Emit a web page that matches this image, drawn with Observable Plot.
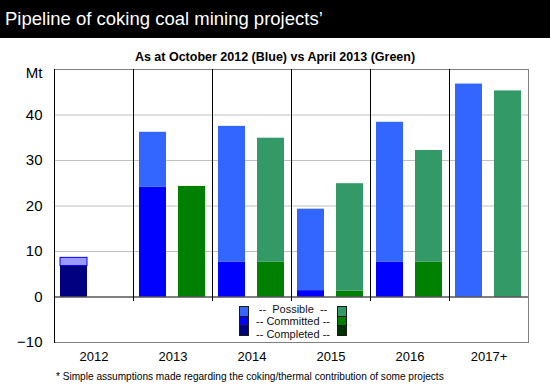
<!DOCTYPE html>
<html><head><meta charset="utf-8">
<script src="https://cdn.jsdelivr.net/npm/d3@7"></script>
<script src="https://cdn.jsdelivr.net/npm/@observablehq/plot@0.6"></script>
<style>
body{margin:0;background:#fff;font-family:"Liberation Sans",Arial,sans-serif;color:#000;}
#wrap{position:relative;width:550px;height:390px;overflow:hidden;}
#title{height:38px;background:#000;color:#fff;font-size:18.5px;line-height:38px;padding-left:5px;white-space:nowrap;}
#subtitle{position:absolute;top:49.5px;left:0;width:550px;text-align:center;font-weight:bold;font-size:12.5px;line-height:15px;white-space:nowrap;}
#chart{position:absolute;top:38px;left:0;}
#foot{position:absolute;top:371px;left:56px;font-size:10.1px;line-height:12px;white-space:nowrap;}
.sw{position:absolute;width:10px;}
.sw div{box-sizing:border-box;width:10px;height:10.5px;border:1px solid #1a1a1a;margin-top:-1px;}
#legtext{position:absolute;left:243px;top:302.5px;width:100px;text-align:center;font-size:11px;line-height:12.5px;white-space:pre;color:#111;}
</style></head>
<body>
<div id="wrap">
  <div id="title">Pipeline of coking coal mining projects’</div>
  <div id="subtitle">As at October 2012 (Blue) vs April 2013 (Green)</div>
  <div id="chart"></div>
  <div class="sw" id="swBlue" style="left:238.5px;top:307px"></div>
  <div class="sw" id="swGreen" style="left:337px;top:307px"></div>
  <div id="legtext"></div>
  <div id="foot">* Simple assumptions made regarding the coking/thermal contribution of some projects</div>
</div>
<script>
const years = ["2012", "2013", "2014", "2015", "2016", "2017+"];
const seriesNames = ["Oct 2012", "Apr 2013"];
const segments = ["Completed", "Committed", "Possible"];
const legendLabels = ["--  Possible  --", "-- Committed --", "-- Completed --"];

// October 2012 (blue)
const oct2012Completed = [6.8, 0, 0, 0, 0, 0];
const oct2012Committed = [0, 24.1, 7.7, 1.4, 7.7, 0];
const oct2012Possible  = [1.8, 12.1, 29.8, 17.9, 30.7, 46.8];
// April 2013 (green)
const apr2013Completed = [0, 0, 0, 0, 0, 0];
const apr2013Committed = [0, 24.3, 7.7, 1.3, 7.7, 0];
const apr2013Possible  = [0, 0, 27.2, 23.6, 24.5, 45.3];

const palette = {
  "Oct 2012": {Completed: "#000080", Committed: "#0000ff", Possible: "#3366ff"},
  "Apr 2013": {Completed: "#003300", Committed: "#008000", Possible: "#339966"}
};
const earlyPossibleColor = "#9999ff";

const seriesData = {
  "Oct 2012": {Completed: oct2012Completed, Committed: oct2012Committed, Possible: oct2012Possible},
  "Apr 2013": {Completed: apr2013Completed, Committed: apr2013Committed, Possible: apr2013Possible}
};

const rows = [];
years.forEach((year, i) => {
  seriesNames.forEach(s => {
    segments.forEach(seg => {
      const v = seriesData[s][seg][i];
      if (v > 0) rows.push({year, series: s, segment: seg, value: v});
    });
  });
});
const isEarly = d => d.year === "2012" && d.segment === "Possible";

const chart = Plot.plot({
  width: 550,
  height: 352,
  marginTop: 31,
  marginBottom: 48,
  marginLeft: 53,
  marginRight: 22,
  style: {fontFamily: "'Liberation Sans', Arial, sans-serif", background: "transparent", color: "#000", overflow: "visible"},
  fx: {domain: years, padding: 0, axis: null, label: null},
  x: {domain: seriesNames, paddingInner: 0.305, paddingOuter: 0.16, axis: null},
  y: {domain: [-10, 50], axis: null, label: null},
  marks: [
    Plot.gridY([10, 20, 30, 40], {stroke: "#c0c0c0", strokeOpacity: 1}),
    Plot.barY(rows, Plot.stackY({
      fx: "year", x: "series", y: "value",
      fill: d => isEarly(d) ? earlyPossibleColor : palette[d.series][d.segment],
      stroke: "#0000ff",
      strokeOpacity: d => isEarly(d) ? 1 : 0
    })),
    Plot.ruleY([0], {stroke: "#000"}),
    Plot.frame({anchor: "top", stroke: "#808080"}),
    Plot.frame({anchor: "bottom", stroke: "#808080"}),
    Plot.frame({anchor: "right", stroke: "#808080", facetAnchor: "right"}),
    Plot.frame({anchor: "left", stroke: "#000", insetBottom: 42}),
    Plot.frame({anchor: "left", stroke: "#000", facetAnchor: "left"}),
    Plot.axisY({ticks: [-10, 0, 10, 20, 30, 40], tickSize: 0, tickPadding: 12, fontSize: 15, label: null}),
    Plot.axisY({ticks: [50], tickFormat: () => "Mt", tickSize: 0, tickPadding: 12, fontSize: 15, dy: 4, label: null}),
    Plot.axisFx({anchor: "bottom", tickSize: 0, tickPadding: 9, fontSize: 13, label: null})
  ]
});
document.getElementById("chart").appendChild(chart);

// legend (HTML, below the plot's zero line)
const legendOrder = ["Possible", "Committed", "Completed"];
for (const [id, s] of [["swBlue", "Oct 2012"], ["swGreen", "Apr 2013"]]) {
  const el = document.getElementById(id);
  legendOrder.forEach(seg => {
    const c = document.createElement("div");
    c.style.background = palette[s][seg];
    el.appendChild(c);
  });
}
document.getElementById("legtext").textContent = legendLabels.join("\n");
</script>
</body></html>
